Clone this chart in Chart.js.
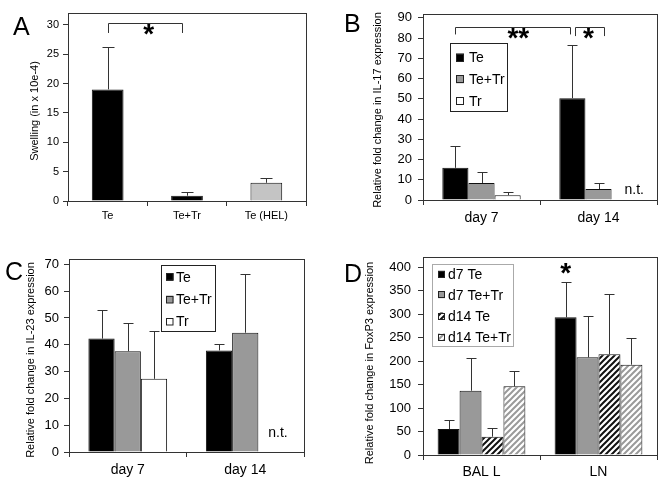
<!DOCTYPE html>
<html>
<head>
<meta charset="utf-8">
<script src="https://cdn.jsdelivr.net/npm/chart.js@4.4.1/dist/chart.umd.min.js"></script>
<style>
  body { margin: 0; background: #fff; }
  #wrap { position: relative; width: 664px; height: 485px; overflow: hidden; }
  canvas { position: absolute; }
</style>
</head>
<body>
<div id="wrap">
  <canvas id="chartA" width="332" height="242" style="left:0;top:0"></canvas>
  <canvas id="chartB" width="332" height="242" style="left:332px;top:0"></canvas>
  <canvas id="chartC" width="332" height="243" style="left:0;top:242px"></canvas>
  <canvas id="chartD" width="332" height="243" style="left:332px;top:242px"></canvas>
</div>
<script>
// A: swelling
const groupsA = ["Te", "Te+Tr", "Te (HEL)"];
const swelling = [19.0, 0.9, 3.1];
const swellingTop = [26.2, 1.6, 4.0];   // mean + error

// B: IL-17, C: IL-23
const days = ["day 7", "day 14"];
const il17Te = [15.9, 50.3];
const il17TeTop = [26.7, 76.7];
const il17TeTr = [8.4, 5.4];
const il17TeTrTop = [13.8, 8.6];
const il17Tr = [2.4, null];
const il17TrTop = [3.8, null];

const il23Te = [42.3, 37.9];
const il23TeTop = [53.1, 40.2];
const il23TeTr = [37.6, 44.5];
const il23TeTrTop = [48.1, 66.4];
const il23Tr = [27.3, null];
const il23TrTop = [45.2, null];

// D: FoxP3
const sites = ["BAL L", "LN"];
const d7Te = [55.4, 293.4];
const d7TeTop = [74.6, 368.9];
const d7TeTr = [137, 208.1];
const d7TeTrTop = [206.8, 295.5];
const d14Te = [39, 214.5];
const d14TeTop = [56.7, 342.4];
const d14TeTr = [146.3, 192.5];
const d14TeTrTop = [179.7, 248.6];

Chart.defaults.font.family = "'Liberation Sans', Arial, sans-serif";
Chart.defaults.color = "#000";

const FONT = "'Liberation Sans', Arial, sans-serif";
const GRAY = "#999999";

function hatch(color) {
  const c = document.createElement("canvas");
  c.width = c.height = 6;
  const g = c.getContext("2d");
  g.fillStyle = "#fff";
  g.fillRect(0, 0, 6, 6);
  g.strokeStyle = color;
  g.lineWidth = 2;
  g.beginPath();
  g.moveTo(0, 6); g.lineTo(6, 0);
  g.moveTo(-3, 3); g.lineTo(3, -3);
  g.moveTo(3, 9); g.lineTo(9, 3);
  g.stroke();
  return g.createPattern(c, "repeat");
}

// per-chart extras: letter, y title, legend, brackets, stars, notes
const extras = {
  chartA: {
    letter: ["A", 13, 35], title: ["Swelling (in x 10e-4)", 35, 111], cap: 6,
    brackets: [{ a: [0, 0, 0], b: [0, 1, -5], y: 30.3, y0: 28.6 }],
    stars: [{ text: "*", at: [0, 0, 41], y: 28.6 }],
    notes: []
  },
  chartB: {
    letter: ["B", 12, 32], title: ["Relative fold change in IL-17 expression", 46, 110], cap: 5,
    legend: { x: 118, y: 43, w: 57, h: 68, sqX: 124, sq: 8, textX: 137, rows: [57.5, 79.3, 100.7], border: "#222" },
    brackets: [
      { a: [0, 0, 0], b: [0, 1, -2], y: 85.7, y0: 81.8 },
      { a: [0, 1, 3], b: [1, 1, 5], y: 85.7, y0: 81 }
    ],
    stars: [{ text: "**", at: [0, 0, 63], y: 80.3 }, { text: "*", at: [0, 1, 16], y: 80.3 }],
    notes: [{ text: "n.t.", at: [1, 1, 26], y: 3.2 }]
  },
  chartC: {
    letter: ["C", 5, 38], title: ["Relative fold change in IL-23 expression", 31, 118], cap: 5,
    legend: { x: 161, y: 23, w: 54, h: 66, sqX: 166, sq: 7.5, textX: 176, rows: [35, 57.3, 79.3], border: "#222" },
    brackets: [],
    stars: [],
    notes: [{ text: "n.t.", at: [1, 1, 23], y: 5.6 }]
  },
  chartD: {
    letter: ["D", 12, 40], title: ["Relative fold change in FoxP3 expression", 38, 121], cap: 5,
    legend: { x: 100, y: 22, w: 81, h: 82, sqX: 106, sq: 7, textX: 116, rows: [32.3, 52.7, 74, 95], border: "#aaa" },
    brackets: [],
    stars: [{ text: "*", at: [0, 1, 0], y: 391 }],
    notes: []
  }
};

function barX(chart, ref) {
  return chart.getDatasetMeta(ref[0]).data[ref[1]].x + ref[2];
}

const panelPlugin = {
  id: "panel",
  afterDatasetsDraw(chart) {
    const e = extras[chart.canvas.id];
    const ctx = chart.ctx;
    const y = chart.scales.y;
    ctx.save();
    ctx.strokeStyle = "#333";
    ctx.lineWidth = 1;
    chart.data.datasets.forEach((ds, di) => {
      const meta = chart.getDatasetMeta(di);
      meta.data.forEach((bar, i) => {
        const top = ds.errTop[i];
        if (top == null) return;
        const x = Math.round(bar.x) + 0.5;
        const y1 = y.getPixelForValue(ds.data[i]);
        const y2 = Math.round(y.getPixelForValue(top)) + 0.5;
        ctx.beginPath();
        ctx.moveTo(x, y1); ctx.lineTo(x, y2);
        ctx.moveTo(x - e.cap, y2); ctx.lineTo(x + e.cap, y2);
        ctx.stroke();
      });
    });
    ctx.restore();
  },
  afterDraw(chart) {
    const e = extras[chart.canvas.id];
    const ctx = chart.ctx;
    const a = chart.chartArea;
    const y = chart.scales.y;
    ctx.save();

    // plot frame
    ctx.strokeStyle = "#333";
    ctx.lineWidth = 1;
    ctx.strokeRect(Math.round(a.left) + 0.5, Math.round(a.top) + 0.5,
      Math.round(a.right - a.left), Math.round(a.bottom - a.top));

    // brackets
    e.brackets.forEach(b => {
      const x1 = Math.round(barX(chart, b.a)) + 0.5;
      const x2 = Math.round(barX(chart, b.b)) + 0.5;
      const yt = Math.round(y.getPixelForValue(b.y)) + 0.5;
      const yb = y.getPixelForValue(b.y0);
      ctx.beginPath();
      ctx.moveTo(x1, yb); ctx.lineTo(x1, yt); ctx.lineTo(x2, yt); ctx.lineTo(x2, yb);
      ctx.stroke();
    });

    // stars
    ctx.fillStyle = "#000";
    ctx.textAlign = "center";
    ctx.textBaseline = "alphabetic";
    ctx.font = "bold 28px " + FONT;
    e.stars.forEach(s => {
      ctx.fillText(s.text, barX(chart, s.at), y.getPixelForValue(s.y) + 10);
    });

    // notes
    ctx.textAlign = "left";
    ctx.font = "14px " + FONT;
    e.notes.forEach(n => {
      ctx.fillText(n.text, barX(chart, n.at), y.getPixelForValue(n.y));
    });

    // legend
    const L = e.legend;
    if (L) {
      ctx.strokeStyle = L.border;
      ctx.strokeRect(L.x + 0.5, L.y + 0.5, L.w, L.h);
      ctx.textBaseline = "middle";
      chart.data.datasets.forEach((ds, i) => {
        const ry = L.rows[i];
        ctx.fillStyle = ds.backgroundColor;
        ctx.fillRect(L.sqX, ry - L.sq / 2, L.sq, L.sq);
        ctx.strokeStyle = "#222";
        ctx.strokeRect(L.sqX + 0.5, Math.round(ry - L.sq / 2) + 0.5, L.sq - 1, L.sq - 1);
        ctx.fillStyle = "#000";
        ctx.fillText(ds.label, L.textX, ry + 1);
      });
    }

    // panel letter
    ctx.textBaseline = "alphabetic";
    ctx.textAlign = "left";
    ctx.font = "25px " + FONT;
    ctx.fillText(e.letter[0], e.letter[1], e.letter[2]);

    // y title
    ctx.font = "11px " + FONT;
    ctx.textAlign = "center";
    ctx.textBaseline = "middle";
    ctx.translate(e.title[1], e.title[2]);
    ctx.rotate(-Math.PI / 2);
    ctx.fillText(e.title[0], 0, 0);
    ctx.restore();
  }
};

function makeChart(id, cfg) {
  return new Chart(document.getElementById(id), {
    type: "bar",
    data: { labels: cfg.labels, datasets: cfg.datasets },
    options: {
      responsive: false,
      animation: false,
      layout: { padding: { top: cfg.pad[0], right: cfg.pad[1], bottom: 0, left: 0 } },
      datasets: { bar: { categoryPercentage: cfg.cat, barPercentage: 1, borderColor: "#111", borderWidth: 1 } },
      plugins: { legend: { display: false }, tooltip: { enabled: false } },
      scales: {
        x: {
          grid: { offset: true, drawOnChartArea: false, tickLength: 5, color: "#333" },
          border: { display: false },
          ticks: { font: { size: cfg.xFont }, padding: cfg.xPad, color: "#000" },
          afterFit: s => { s.height = cfg.xH; }
        },
        y: {
          min: 0, max: cfg.yMax,
          grid: { drawOnChartArea: false, tickLength: 5, color: "#333" },
          border: { display: false },
          ticks: { font: { size: cfg.yFont }, padding: cfg.yPad, color: "#000" },
          afterBuildTicks: s => {
            const t = [];
            for (let v = 0; v <= cfg.yTop; v += cfg.step) t.push({ value: v });
            s.ticks = t;
          },
          afterFit: s => { s.width = cfg.yW; }
        }
      }
    },
    plugins: [panelPlugin]
  });
}

makeChart("chartA", {
  labels: groupsA,
  datasets: [{ label: "Swelling", data: swelling, errTop: swellingTop, backgroundColor: ["#000", "#000", "#c4c4c4"] }],
  pad: [13, 26], cat: 0.4, xFont: 11, xPad: 3, xH: 41, yFont: 11, yPad: 4, yW: 68,
  yMax: 32, yTop: 30, step: 5
});

makeChart("chartB", {
  labels: days,
  datasets: [
    { label: "Te", data: il17Te, errTop: il17TeTop, backgroundColor: "#000" },
    { label: "Te+Tr", data: il17TeTr, errTop: il17TeTrTop, backgroundColor: GRAY },
    { label: "Tr", data: il17Tr, errTop: il17TrTop, backgroundColor: "#fff" }
  ],
  pad: [7, 7], cat: 0.67, xFont: 14, xPad: 5, xH: 42, yFont: 13, yPad: 6, yW: 91,
  yMax: 92, yTop: 90, step: 10
});

makeChart("chartC", {
  labels: days,
  datasets: [
    { label: "Te", data: il23Te, errTop: il23TeTop, backgroundColor: "#000" },
    { label: "Te+Tr", data: il23TeTr, errTop: il23TeTrTop, backgroundColor: GRAY },
    { label: "Tr", data: il23Tr, errTop: il23TrTop, backgroundColor: "#fff" }
  ],
  pad: [17, 28], cat: 0.67, xFont: 14, xPad: 5, xH: 33, yFont: 13, yPad: 5, yW: 69,
  yMax: 72, yTop: 70, step: 10
});

makeChart("chartD", {
  labels: sites,
  datasets: [
    { label: "d7 Te", data: d7Te, errTop: d7TeTop, backgroundColor: "#000" },
    { label: "d7 Te+Tr", data: d7TeTr, errTop: d7TeTrTop, backgroundColor: GRAY },
    { label: "d14 Te", data: d14Te, errTop: d14TeTop, backgroundColor: hatch("#111") },
    { label: "d14 Te+Tr", data: d14TeTr, errTop: d14TeTrTop, backgroundColor: hatch("#9a9a9a") }
  ],
  pad: [15, 7], cat: 0.75, xFont: 14, xPad: 4, xH: 30, yFont: 13, yPad: 7, yW: 91,
  yMax: 422, yTop: 400, step: 50
});
</script>
</body>
</html>
